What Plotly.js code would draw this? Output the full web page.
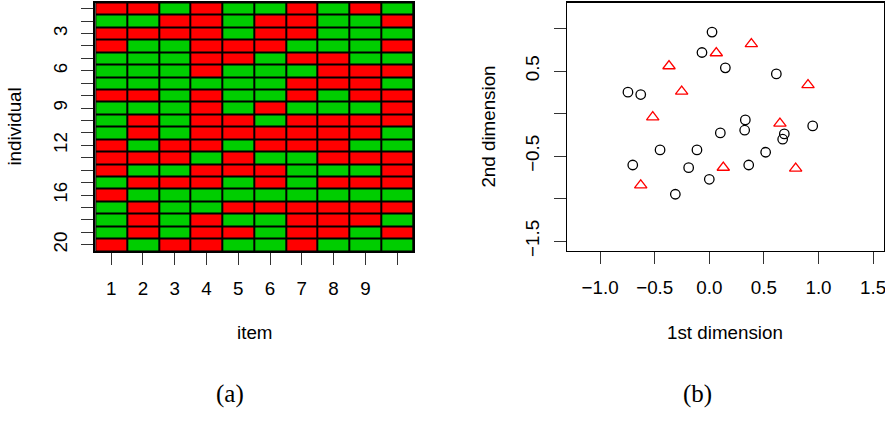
<!DOCTYPE html>
<html>
<head>
<meta charset="utf-8">
<script src="https://cdn.plot.ly/plotly-3.0.1.min.js"></script>
<style>
html,body{margin:0;padding:0;background:#fff;}
#chart{width:885px;height:422px;}
</style>
</head>
<body>
<div id="chart"></div>
<script>
// ---- Data ----
// (a) item responses: 1 = red, 0 = green; rows = individuals 1..20, cols = items 1..10
var items = [1,2,3,4,5,6,7,8,9,10];
var itemTickText = ["1","2","3","4","5","6","7","8","9",""];
var individuals = [1,2,3,4,5,6,7,8,9,10,11,12,13,14,15,16,17,18,19,20];
var individualTickText = ["","","3","","","6","","","9","","","12","","","","16","","","","20"];
var responses = [
  [1,1,0,1,0,0,1,0,1,0],
  [0,0,1,1,0,1,1,0,0,1],
  [1,1,1,1,0,1,1,0,0,0],
  [1,0,0,1,1,1,0,0,0,1],
  [0,0,0,1,1,0,1,1,0,0],
  [0,0,0,1,0,0,0,1,1,1],
  [0,0,0,0,0,0,1,1,1,0],
  [1,1,0,1,0,0,1,0,1,1],
  [0,0,0,1,0,1,0,0,0,1],
  [0,1,0,1,1,0,1,1,1,1],
  [0,1,0,1,1,1,1,1,1,0],
  [1,0,1,1,0,1,1,1,0,0],
  [1,1,1,0,1,0,0,1,1,1],
  [1,0,0,1,1,1,0,0,0,1],
  [0,1,1,1,0,1,0,1,1,1],
  [1,0,0,0,0,0,0,0,0,0],
  [0,1,0,0,1,1,1,1,1,1],
  [0,1,0,1,0,0,1,1,1,0],
  [0,1,0,1,1,0,1,1,0,1],
  [1,0,1,1,0,0,1,0,0,0]
];

// (b) scatter: group 1 (circles), group 2 (triangles)
var circleX = [0.025,-0.067,0.147,0.614,-0.745,-0.628,0.330,0.947,0.324,0.101,0.687,0.672,-0.451,-0.113,0.516,-0.701,-0.189,0.361,0.000,-0.311];
var circleY = [0.958,0.718,0.538,0.467,0.252,0.224,-0.074,-0.145,-0.195,-0.227,-0.239,-0.301,-0.427,-0.427,-0.454,-0.604,-0.635,-0.604,-0.772,-0.948];
var triangleX = [0.385,0.064,-0.369,0.904,-0.253,-0.518,0.647,-0.628,0.128,0.791];
var triangleY = [0.818,0.712,0.559,0.336,0.261,-0.041,-0.116,-0.841,-0.634,-0.645];
var scatterXTicks = [-1.0,-0.5,0.0,0.5,1.0,1.5];
var scatterYTicks = [-1.5,-1.0,-0.5,0.0,0.5,1.0];
var scatterYTickText = ["\u22121.5","","\u22120.5","","0.5",""];

// ---- Plot ----
var W = 885, H = 422;
function px(x){return x/W;}
function py(y){return 1 - y/H;}

var fontFam = "Liberation Sans, Arial, Helvetica, sans-serif";
var tickFont = {family: fontFam, size: 18.8, color: "#000"};

var traces = [
  {
    type: "heatmap",
    x: items, y: individuals, z: responses,
    xaxis: "x", yaxis: "y",
    colorscale: [[0,"#00CD00"],[0.5,"#00CD00"],[0.5,"#FF0000"],[1,"#FF0000"]],
    zmin: 0, zmax: 1,
    showscale: false,
    xgap: 2, ygap: 2,
    hoverinfo: "skip"
  },
  {
    type: "scatter", mode: "markers",
    x: circleX, y: circleY, xaxis: "x2", yaxis: "y2",
    marker: {symbol: "circle-open", size: 9.5, color: "#000", line: {width: 1.3, color: "#000"}},
    showlegend: false, hoverinfo: "skip"
  },
  {
    type: "scatter", mode: "markers",
    x: triangleX, y: triangleY, xaxis: "x2", yaxis: "y2",
    marker: {symbol: "triangle-up-open", size: 10.8, color: "#FF0000", line: {width: 1.3, color: "#FF0000"}},
    showlegend: false, hoverinfo: "skip"
  }
];

var yTop = py(2.5), yBot = py(251);

var layout = {
  width: W, height: H,
  margin: {l:0, r:0, t:0, b:0},
  paper_bgcolor: "#fff",
  plot_bgcolor: "#000",
  showlegend: false,
  xaxis: {
    domain: [px(95.3), px(413)], range: [0.5, 10.5],
    tickmode: "array", tickvals: items, ticktext: itemTickText,
    ticks: "outside", ticklen: 12, tickcolor: "#333", tickwidth: 1,
    showgrid: false, zeroline: false,
    showline: true, mirror: true, linecolor: "#000", linewidth: 2,
    tickfont: tickFont, ticklabelstandoff: 7, fixedrange: true
  },
  yaxis: {
    domain: [yBot, yTop], range: [20.5, 0.5],
    tickmode: "array", tickvals: individuals, ticktext: individualTickText,
    ticks: "outside", ticklen: 12, tickcolor: "#333", tickwidth: 1,
    tickangle: -90,
    showgrid: false, zeroline: false,
    showline: true, mirror: true, linecolor: "#000", linewidth: 2,
    tickfont: tickFont, ticklabelstandoff: 7, fixedrange: true
  },
  xaxis2: {
    domain: [px(566.7), px(884)], range: [-1.306, 1.6],
    anchor: "y2",
    tickmode: "array", tickvals: scatterXTicks, tickformat: ".1f",
    ticks: "outside", ticklen: 12, tickcolor: "#333", tickwidth: 1,
    ticklabeloverflow: "allow",
    showgrid: false, zeroline: false,
    showline: true, mirror: true, linecolor: "#000", linewidth: 1.2,
    tickfont: tickFont, ticklabelstandoff: 7, fixedrange: true
  },
  yaxis2: {
    domain: [yBot, yTop], range: [-1.615, 1.306],
    anchor: "x2",
    tickmode: "array", tickvals: scatterYTicks, ticktext: scatterYTickText,
    ticks: "outside", ticklen: 12, tickcolor: "#333", tickwidth: 1,
    tickangle: -90,
    showgrid: false, zeroline: false,
    showline: true, mirror: true, linecolor: "#000", linewidth: 1.2,
    tickfont: tickFont, ticklabelstandoff: 7, fixedrange: true
  },
  shapes: [
    {type: "rect", xref: "x2 domain", yref: "y2 domain", x0: 0, x1: 1, y0: 0, y1: 1,
     fillcolor: "#fff", line: {width: 0}, layer: "below"}
  ],
  annotations: [
    {text: "individual", xref: "paper", yref: "paper", x: px(15), y: py(126.6), textangle: -90,
     showarrow: false, xanchor: "center", yanchor: "middle", font: tickFont},
    {text: "item", xref: "paper", yref: "paper", x: px(254.2), y: py(332),
     showarrow: false, xanchor: "center", yanchor: "middle", font: tickFont},
    {text: "1st dimension", xref: "paper", yref: "paper", x: px(725.3), y: py(332),
     showarrow: false, xanchor: "center", yanchor: "middle", font: tickFont},
    {text: "2nd dimension", xref: "paper", yref: "paper", x: px(489), y: py(126.6), textangle: -90,
     showarrow: false, xanchor: "center", yanchor: "middle", font: tickFont},
    {text: "(a)", xref: "paper", yref: "paper", x: px(230), y: py(394),
     showarrow: false, xanchor: "center", yanchor: "middle",
     font: {family: "Liberation Serif, DejaVu Serif, serif", size: 25, color: "#000"}},
    {text: "(b)", xref: "paper", yref: "paper", x: px(697), y: py(394),
     showarrow: false, xanchor: "center", yanchor: "middle",
     font: {family: "Liberation Serif, DejaVu Serif, serif", size: 25, color: "#000"}}
  ]
};

Plotly.newPlot("chart", traces, layout, {staticPlot: true, displayModeBar: false});
</script>
</body>
</html>
